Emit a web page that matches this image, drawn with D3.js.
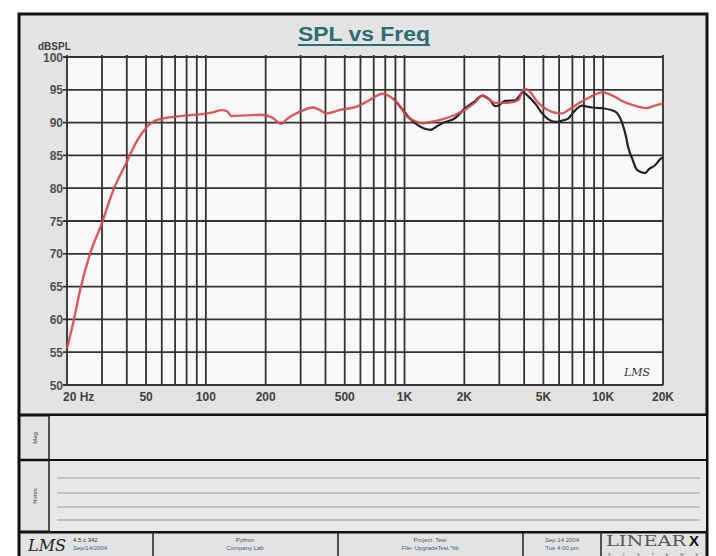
<!DOCTYPE html>
<html><head><meta charset="utf-8">
<script src="https://cdn.jsdelivr.net/npm/d3@7"></script>
<style>
body{margin:0;background:#fff;}
svg{display:block;font-family:Arial,"Liberation Sans",sans-serif;}
</style></head>
<body><svg id="c" width="716" height="556"></svg>
<script>
// ---- data ----
const redFreq = [20,21.5,23.3,26,30,34,40,45,50,54,60,70,80,96,110,120,128,135,160,190,215,240,255,300,345,370,405,470,570,665,775,820,870,975,1010,1100,1230,1350,1550,1800,2020,2250,2460,2650,2860,3330,3730,3960,4100,4710,5200,5730,6200,6670,7500,8600,9900,11500,12440,14000,16500,18200,20000];
const redDb   = [55.6,59.5,64.5,69.8,74.7,79.5,84.0,87.2,89.2,90.1,90.6,90.9,91.1,91.3,91.6,91.9,91.7,91.0,91.1,91.2,90.8,89.8,90.5,91.7,92.3,92.0,91.4,91.9,92.4,93.4,94.4,94.2,93.7,92.0,91.2,90.4,89.9,90.1,90.5,91.2,92.0,93.0,94.1,93.6,93.0,93.0,93.4,95.0,95.1,93.0,92.0,91.5,91.4,91.9,92.9,93.9,94.6,93.9,93.3,92.7,92.2,92.6,92.9];
const blackFreq = [880,975,1050,1100,1230,1350,1450,1550,1800,2020,2250,2460,2700,2860,3000,3200,3600,3960,4200,4600,4930,5300,5730,6200,6670,7000,7800,8100,8800,9870,11480,12440,13000,13340,14000,14800,16240,17000,18240,19500,20000];
const blackDb   = [93.7,92.0,90.8,90.2,89.2,88.9,89.4,89.9,90.7,92.2,93.2,94.1,93.4,92.5,92.7,93.3,93.4,94.6,94.0,92.7,91.4,90.5,90.1,90.3,90.6,91.4,92.6,92.5,92.3,92.2,91.7,90.0,88.0,86.3,84.5,82.8,82.3,82.9,83.5,84.5,84.7];
const yTicks = [50,55,60,65,70,75,80,85,90,95,100];
const xTickValues = [20,50,100,200,500,1000,2000,5000,10000,20000];
const xTickLabels = ["20 Hz","50","100","200","500","1K","2K","5K","10K","20K"];
const titleText = "SPL vs Freq";
const yAxisTitle = "dBSPL";
const panelLabels = ["Mag","Notes"];
const footerCells = [
  ["4.5 c 342","Sep/14/2004"],
  ["Python","Company Lab"],
  ["Project: Test","File: UpgradeTest.*lib"],
  ["Sep 14 2004","Tue 4:00 pm"]
];

// ---- layout ----
const svg = d3.select("#c");
const L=67, R=663, T=57, B=385;
const x = d3.scaleLog().domain([20,20000]).range([L,R]);
const y = d3.scaleLinear().domain([50,100]).range([B,T]);

// frame
svg.append("rect").attr("x",19).attr("y",14).attr("width",688).attr("height",560)
  .attr("fill","#e3e3e3").attr("stroke","#111").attr("stroke-width",3);
// plot background
svg.append("rect").attr("x",L).attr("y",T).attr("width",R-L).attr("height",B-T)
  .attr("fill","#f9f9f9").attr("stroke","#666").attr("stroke-width",1);

// grid
const g = svg.append("g");
const gridF = x.ticks();
g.selectAll("line.v").data(gridF).join("line")
  .attr("x1",d=>x(d)).attr("x2",d=>x(d)).attr("y1",T-2).attr("y2",B)
  .attr("stroke","#333").attr("stroke-width",1.8);
g.selectAll("line.h").data(yTicks).join("line")
  .attr("x1",L-4).attr("x2",R).attr("y1",d=>y(d)).attr("y2",d=>y(d))
  .attr("stroke","#333").attr("stroke-width",1.8);

// y labels
svg.append("g").selectAll("text").data(yTicks).join("text")
  .attr("x",L-4).attr("y",d=>y(d)+4.5).attr("text-anchor","end")
  .attr("font-size",12).attr("font-weight","bold").attr("fill","#505050")
  .text(d=>d);
svg.append("text").attr("x",38).attr("y",50).attr("font-size",10).attr("font-weight","bold")
  .attr("fill","#404040").text(yAxisTitle);

// x labels
svg.append("g").selectAll("text").data(xTickValues).join("text")
  .attr("x",(d,i)=> i===0 ? x(d)-4 : x(d))
  .attr("y",401).attr("text-anchor",(d,i)=> i===0 ? "start" : "middle")
  .attr("font-size",12).attr("font-weight","bold").attr("fill","#404040")
  .text((d,i)=>xTickLabels[i]);

// title
svg.append("text").attr("x",364).attr("y",41).attr("text-anchor","middle")
  .attr("font-size",20).attr("font-weight","bold").attr("fill","#2a6e72")
  .attr("textLength",132).attr("lengthAdjust","spacingAndGlyphs")
  .text(titleText);
svg.append("line").attr("x1",298).attr("x2",430).attr("y1",45).attr("y2",45)
  .attr("stroke","#2a6e72").attr("stroke-width",2);

// curves
const line = d3.line().x(d=>x(d[0])).y(d=>y(d[1])).curve(d3.curveMonotoneX);
const blackData = blackFreq.map((f,i)=>[f,blackDb[i]]);
const redData = redFreq.map((f,i)=>[f,redDb[i]]);
svg.append("path").attr("d",line(blackData)).attr("fill","none")
  .attr("stroke","#222").attr("stroke-width",2.2);
svg.append("path").attr("d",line(redData)).attr("fill","none")
  .attr("stroke","#d24a4e").attr("stroke-width",2.4).attr("stroke-opacity",0.9);

// LMS mark in plot
svg.append("text").attr("x",624).attr("y",376).attr("font-size",11).attr("font-style","italic")
  .attr("fill","#333").attr("font-family","DejaVu Serif").text("LMS");

// lower panels
const lp = svg.append("g");
lp.append("line").attr("x1",19).attr("x2",707).attr("y1",415).attr("y2",415).attr("stroke","#111").attr("stroke-width",3);
lp.append("line").attr("x1",19).attr("x2",707).attr("y1",460).attr("y2",460).attr("stroke","#111").attr("stroke-width",2.5);
lp.append("line").attr("x1",19).attr("x2",707).attr("y1",532).attr("y2",532).attr("stroke","#111").attr("stroke-width",3);
lp.append("line").attr("x1",49).attr("x2",49).attr("y1",415).attr("y2",532).attr("stroke","#222").attr("stroke-width",1.5);
lp.append("rect").attr("x",50).attr("y",416).attr("width",656).attr("height",43).attr("fill","#e8e8e8");
lp.append("rect").attr("x",50).attr("y",461).attr("width",656).attr("height",70).attr("fill","#e8e8e8");
[478,493,507,520].forEach(v=>{
  lp.append("line").attr("x1",57).attr("x2",700).attr("y1",v).attr("y2",v).attr("stroke","#9a9a9a").attr("stroke-width",1);
});
lp.append("text").attr("transform","translate(37,438) rotate(-90)").attr("text-anchor","middle")
  .attr("font-size",6).attr("fill","#444").text(panelLabels[0]);
lp.append("text").attr("transform","translate(37,496) rotate(-90)").attr("text-anchor","middle")
  .attr("font-size",6).attr("fill","#444").text(panelLabels[1]);

// footer
const ft = svg.append("g");
[153,338,523,601].forEach(v=>{
  ft.append("line").attr("x1",v).attr("x2",v).attr("y1",532).attr("y2",556).attr("stroke","#222").attr("stroke-width",1.5);
});
ft.append("text").attr("x",28).attr("y",551).attr("font-size",16).attr("font-style","italic")
  .attr("font-family","DejaVu Serif").attr("fill","#222").text("LMS");
ft.append("text").attr("x",73).attr("y",542).attr("font-size",6).attr("fill","#333").text(footerCells[0][0]);
ft.append("text").attr("x",73).attr("y",550).attr("font-size",6).attr("fill","#3a5a8a").text(footerCells[0][1]);
const centers=[245,430,562];
centers.forEach((cx,i)=>{
  ft.append("text").attr("x",cx).attr("y",542).attr("text-anchor","middle").attr("font-size",6).attr("fill","#555").text(footerCells[i+1][0]);
  ft.append("text").attr("x",cx).attr("y",550).attr("text-anchor","middle").attr("font-size",6).attr("fill","#3a5a8a").text(footerCells[i+1][1]);
});
ft.append("text").attr("x",606).attr("y",546).attr("font-size",14).attr("font-family","DejaVu Serif")
  .attr("fill","#555").attr("textLength",80).attr("lengthAdjust","spacingAndGlyphs").text("LINEAR");
ft.append("text").attr("x",689).attr("y",546).attr("font-size",15).attr("font-weight","bold")
  .attr("fill","#111").text("X");
ft.append("text").attr("x",608).attr("y",555.5).attr("font-size",4).attr("fill","#555")
  .attr("textLength",90).text("SYSTEMS");
</script></body></html>
